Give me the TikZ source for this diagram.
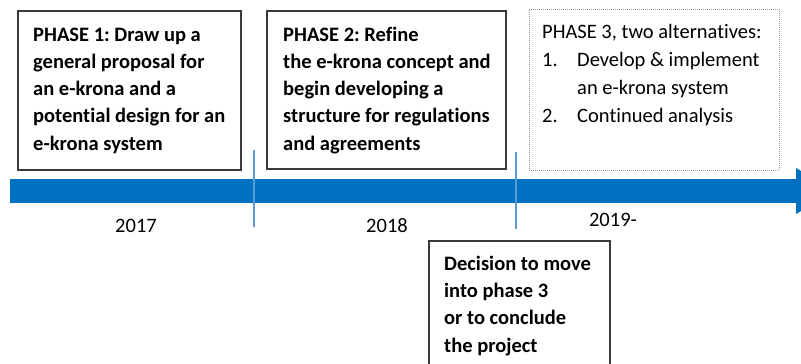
\documentclass[tikz,border=0pt]{standalone}
\usepackage{fontspec}
\setmainfont{Carlito}[Ligatures=NoCommon]
\frenchspacing
\definecolor{boxgray}{HTML}{3A3A3A}
\definecolor{dotgray}{HTML}{9A9A9A}
\definecolor{barblue}{HTML}{0070C0}
\definecolor{tickblue}{HTML}{5B9BD5}
\tikzset{
  phasebox/.style={draw=boxgray, line width=1.4pt, anchor=north west, inner sep=0pt, outer sep=0pt},
  altbox/.style={draw=dotgray, line width=0.9pt, dash pattern=on 1pt off 1pt, anchor=north west, inner sep=0pt, outer sep=0pt},
  boldtxt/.style={anchor=base west, inner sep=0pt, align=left, text=black, font=\frenchspacing\bfseries\fontsize{20.5}{27.3}\selectfont},
  plaintxt/.style={anchor=base west, inner sep=0pt, align=left, text=black, font=\frenchspacing\fontsize{20.5}{28}\selectfont},
  yeartxt/.style={anchor=center, inner sep=0pt, text=black, font=\fontsize{20.5}{24}\selectfont},
  tickline/.style={draw=tickblue, line width=1.1pt},
}
\begin{document}
\begin{tikzpicture}[x=1pt,y=-1pt]
\useasboundingbox (0,0) rectangle (801,364);
\clip (0,0) rectangle (801,364);
% timeline bar
\fill[barblue] (10,179) rectangle (797,203);
\fill[barblue] (796,168) -- (835,191) -- (796,214) -- cycle;
% ticks
\coordinate (k1a) at (254,150); \coordinate (k1b) at (254,227);
\coordinate (k2a) at (516,152); \coordinate (k2b) at (516,229);
\draw[tickline] (k1a) -- (k1b);
\draw[tickline] (k2a) -- (k2b);
% boxes
\node[phasebox, minimum width=223pt, minimum height=159pt] (p1) at (18,11) {};
\node[phasebox, minimum width=239pt, minimum height=158pt] (p2) at (267,11) {};
\node[altbox, minimum width=250pt, minimum height=161pt] (p3) at (529,9) {};
\node[phasebox, minimum width=181pt, minimum height=160pt] (dec) at (429,241) {};
% texts (base anchor = baseline of the last line)
\node[boldtxt] (t1) at (33,150.2) {PHASE 1: Draw up a\\general proposal for\\an e-krona and a\\potential design for an\\e-krona system};
\node[boldtxt] (t2) at (283,150.2) {PHASE 2: Refine\\the e-krona concept and\\begin developing a\\structure for regulations\\and agreements};
\node[plaintxt] (t3) at (542,122) {PHASE 3, two alternatives:\\\makebox[35pt][l]{1.}Develop \& implement\\\hspace*{35pt}an e-krona system\\\makebox[35pt][l]{2.}Continued analysis};
\node[boldtxt] (t4) at (444,352) {Decision to move\\into phase 3\\or to conclude\\the project};
% years
\node[yeartxt] (y1) at (136,226) {2017};
\node[yeartxt] (y2) at (387,226) {2018};
\node[yeartxt] (y3) at (613,220) {2019-};
\end{tikzpicture}
\end{document}
